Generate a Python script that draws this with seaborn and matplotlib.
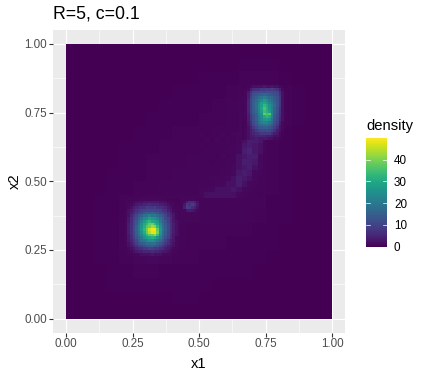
import numpy as np
import matplotlib
matplotlib.use("Agg")
import matplotlib.pyplot as plt
import seaborn as sns

plt.rcParams['font.family'] = ['Liberation Sans', 'DejaVu Sans']

title = "R=5, c=0.1"
xlabel = "x1"
ylabel = "x2"
legend_title = "density"
tick_values = [0, 25, 50, 75, 100]
tick_labels = ["0.00", "0.25", "0.50", "0.75", "1.00"]
cbar_ticks = [0, 10, 20, 30, 40]

# background level, blocks of 5 cells, rows listed from low x2 to high x2
haze = [
    [.1,.1,.1,.1,.1,.1,.1,.1,.1,.1,.1,.1,.1,.1,.1,.1,.1,.1,.1,.1],
    [.1,.1,.1,.1,.1,.1,.1,.1,.2,.2,.1,.1,.1,.1,.1,.1,.1,.1,.1,.1],
    [.1,.1,.1,.2,.2,.2,.2,.2,.2,.2,.2,.1,.1,.1,.1,.1,.1,.1,.1,.1],
    [.1,.1,.1,.2,.3,.4,.4,.3,.3,.2,.2,.2,.2,.2,.1,.1,.1,.1,.1,.1],
    [.1,.1,.2,.3,.4,.8,1.,.8,.5,.4,.3,.3,.3,.2,.2,.1,.1,.1,.1,.1],
    [.1,.1,.2,.3,.6,1.,1.,1.,.6,.4,.4,.4,.3,.3,.2,.2,.1,.1,.1,.1],
    [.1,.1,.2,.3,.6,1.,1.,1.,.7,.5,.5,.5,.5,.4,.3,.2,.1,.1,.1,.1],
    [.1,.1,.2,.3,.5,.9,1.,1.,.8,.8,.7,.7,.7,.7,.4,.3,.2,.1,.1,.1],
    [.1,.1,.2,.2,.4,.6,.8,.8,.8,.8,.7,.7,.7,.7,.6,.3,.2,.1,.1,.1],
    [.1,.1,.1,.2,.3,.4,.5,.6,.7,.7,.7,.7,.7,.8,.7,.4,.2,.1,.1,.1],
    [.1,.1,.1,.2,.2,.3,.4,.5,.6,.7,.7,.7,.7,.8,.7,.4,.2,.1,.1,.1],
    [.1,.1,.1,.1,.2,.3,.4,.5,.5,.6,.7,.7,.7,.8,.7,.4,.2,.1,.1,.1],
    [.1,.1,.1,.1,.2,.2,.3,.4,.5,.5,.6,.6,.7,.8,.8,.5,.2,.1,.1,.1],
    [.1,.1,.1,.1,.1,.2,.2,.3,.4,.4,.5,.6,.7,1.,1.,.6,.3,.1,.1,.1],
    [.1,.1,.1,.1,.1,.1,.2,.2,.3,.3,.4,.5,.7,1.,1.,1.,.4,.2,.1,.1],
    [.1,.1,.1,.1,.1,.1,.1,.2,.2,.2,.3,.4,.6,.9,1.,1.,.5,.2,.1,.1],
    [.1,.1,.1,.1,.1,.1,.1,.1,.2,.2,.2,.3,.4,.7,.9,.9,.4,.2,.1,.1],
    [.1,.1,.1,.1,.1,.1,.1,.1,.1,.1,.2,.2,.2,.4,.5,.5,.3,.1,.1,.1],
    [.1,.1,.1,.1,.1,.1,.1,.1,.1,.1,.1,.1,.1,.2,.2,.2,.1,.1,.1,.1],
    [.1,.1,.1,.1,.1,.1,.1,.1,.1,.1,.1,.1,.1,.1,.1,.1,.1,.1,.1,.1],
]

# lower-left blob, single cells, x index from 22, rows from x2 index 43 downward
blob_a = [
    [.5,.7,.6,.8,.7,1,1,1,1,1,1,1,1,1,1,.8,.7,.6,.5,.5,.5],
    [.6,.8,1,1,2,2,2,3,3,3,3,3,3,2,2,2,1,1,.8,.6,.5],
    [.7,1,1,2,3,4,4,5,5,6,5,5,5,4,4,3,2,1,1,.7,.6],
    [.7,1,2,4,5,6,7,7,9,8,8,9,7,7,6,5,3,2,1,.8,.6],
    [.8,2,3,5,7,8,9,10,10,11,11,10,10,9,7,7,4,3,1,1,.7],
    [1,2,4,6,8,9,11,13,15,14,16,14,13,11,10,8,6,4,2,1,.7],
    [1,2,5,8,10,13,15,18,19,21,19,20,17,15,13,10,7,5,3,1,.8],
    [1,3,6,9,12,15,19,23,24,28,26,25,22,18,15,11,9,6,3,1,.8],
    [1,3,6,10,13,17,22,27,31,33,30,29,26,20,16,13,9,6,3,2,1],
    [1,4,7,10,14,18,25,30,33,38,39,33,29,23,17,14,10,7,4,2,1],
    [1,4,7,11,15,20,26,31,37,39,43,41,33,25,18,14,11,7,4,2,1],
    [1,4,7,12,15,20,27,33,39,46,49,49,38,27,19,15,11,7,4,2,1],
    [1,4,7,10,15,19,25,31,38,44,48,48,40,26,18,14,10,7,4,2,1],
    [1,3,6,11,14,18,23,28,33,37,38,42,34,24,17,14,10,6,3,2,1],
    [1,3,6,9,13,16,20,25,28,30,32,30,26,21,16,12,9,6,3,1,.8],
    [1,3,5,8,11,14,18,20,22,25,25,23,20,17,14,10,7,4,3,1,.8],
    [1,2,4,7,9,12,14,15,18,17,18,18,15,13,11,8,6,4,2,1,.7],
    [.8,2,3,5,7,9,10,12,13,14,15,13,12,10,8,6,4,3,2,1,.7],
    [.7,1,2,3,5,6,7,8,8,10,9,8,8,7,6,4,3,2,1,.8,.6],
    [.6,.8,1,2,3,4,4,5,5,5,6,5,5,4,3,3,2,1,.8,.6,.5],
    [.5,.6,.7,1,1,1,2,2,2,2,3,2,2,2,1,1,1,.8,.6,.5,.5],
]

# upper-right blob, single cells, x index from 66, rows from x2 index 84 downward
blob_b = [
    [.3,.4,.6,1,2,2,2,2,3,2,2,3,2,2,1,.6,.3],
    [.4,.6,1,4,6,7,7,8,8,9,8,9,8,7,4,1,.4],
    [.5,.8,3,7,10,11,11,12,11,12,12,11,11,10,6,2,.5],
    [.5,.8,4,8,12,13,14,15,16,15,14,13,12,11,7,2,.6],
    [.6,1,4,9,13,15,17,19,21,19,17,16,14,12,8,2,.6],
    [.6,1,5,10,14,17,20,23,27,24,20,18,15,12,8,2,.6],
    [.6,1,5,10,15,18,21,28,29,27,23,20,16,13,8,2,.6],
    [.6,1,5,10,15,18,23,28,33,30,25,21,17,13,8,2,.6],
    [.6,1,5,10,14,18,23,29,36,31,26,21,16,12,7,2,.6],
    [.6,1,5,10,14,17,22,28,34,32,28,21,16,12,7,2,.6],
    [.6,1,4,9,13,16,21,25,38,35,37,23,15,11,6,2,.6],
    [.6,1,4,8,12,15,20,24,30,33,30,22,14,11,6,2,.6],
    [.6,.8,4,8,12,15,19,23,27,28,25,19,13,10,5,2,.5],
    [.5,.8,3,7,11,14,18,21,23,23,20,17,12,9,4,1,.5],
    [.5,.8,3,6,10,13,15,18,19,19,17,14,11,8,3,1,.4],
    [.5,.8,2,5,8,11,13,14,15,15,14,12,9,6,2,1,.4],
    [.5,.8,2,4,6,8,10,11,11,12,11,9,7,4,2,.7,.3],
    [.5,1,2,4,5,6,7,8,8,8,8,6,4,3,1,.5,.3],
    [.5,1,2,3,4,5,5,5,5,4,4,3,2,2,1,.4,.3],
    [.5,1,2,3,3,4,3,3,3,3,2,2,1,1,.6,.3,.3],
]

# small spot, x index from 44, rows from x2 index 42 downward
spot_c = [
    [1,4,6,6,5,2],
    [3,8,7,9,7,3],
    [4,9,8,6,5,2],
    [1,3,4,3,2,1],
]

# connecting tail, blocks of 2 cells, x index from 50, rows from x2 index 64 downward
tail = [
    [.6,.5,.7,.6,.8,.7,.9,1.,2,3,4,3],
    [.5,.7,.5,.8,.6,.8,.7,1.,2,4,4,3],
    [.7,.5,.6,.6,.7,.7,.8,1.,3,4,3,2],
    [.5,.6,.6,.7,.6,.8,.8,1.,4,5,3,2],
    [.6,.6,.7,.5,.8,.7,.9,2,3,4,4,1.],
    [.6,.7,.5,.7,.7,.8,.9,2,4,4,3,1.],
    [.7,.6,.7,.7,.6,.8,1.,2,3,4,2,1.],
    [.6,.7,.7,.7,.8,.9,1.,3,4,3,1.,.8],
    [.7,.7,.8,.8,.9,1.,2,4,3,2,1.,.7],
    [.8,.8,.9,1.,1.,2,2,4,2,1.,.8,.6],
    [1.,1.,1.,2,2,2,3,2,1.,.8,.7,.6],
    [1.,2,2,2,2,2,2,1.,.8,.7,.6,.5],
]

density = np.kron(np.array(haze, dtype=float), np.ones((5, 5)))
tail_cells = np.kron(np.array(tail, dtype=float), np.ones((2, 2)))
density[44:68, 50:74] = tail_cells[::-1]
density[23:44, 22:43] = np.array(blob_a, dtype=float)[::-1]
density[65:85, 66:83] = np.array(blob_b, dtype=float)[::-1]
density[39:43, 44:50] = np.array(spot_c, dtype=float)[::-1]

W, H = 423, 375
fig = plt.figure(figsize=(W / 100, H / 100), dpi=100, facecolor="white")
ax = fig.add_axes([52.7 / W, 1 - 332.5 / H, (345.3 - 52.7) / W, (332.5 - 30) / H])
cax = fig.add_axes([366 / W, 1 - 246.7 / H, 21 / W, 108.7 / H])

sns.heatmap(density, ax=ax, cmap="viridis", vmin=0, vmax=50, cbar_ax=cax,
            xticklabels=False, yticklabels=False, square=False)

ax.set_facecolor("#EBEBEB")
ax.set_xlim(-5, 105)
ax.set_ylim(-5, 105)
ax.set_position([52.7 / W, 1 - 332.5 / H, (345.3 - 52.7) / W, (332.5 - 30) / H])
for s in ax.spines.values():
    s.set_visible(False)
ax.set_axisbelow(True)
ax.set_xticks(tick_values)
ax.set_xticklabels(tick_labels)
ax.set_yticks(tick_values)
ax.set_yticklabels(tick_labels, rotation=0)
minor = [12.5, 37.5, 62.5, 87.5]
ax.set_xticks(minor, minor=True)
ax.set_yticks(minor, minor=True)
ax.grid(True, which="major", color="white", lw=0.8)
ax.grid(True, which="minor", color="white", lw=0.4)
ax.tick_params(which="major", length=2.6, width=0.8, color="#333333",
               labelcolor="#4D4D4D", labelsize=8.4, pad=1.5)
ax.tick_params(which="minor", length=0)
ax.set_xlabel(xlabel, fontsize=10.6, color="black", labelpad=5)
ax.set_ylabel(ylabel, fontsize=10.6, color="black", labelpad=2)
ax.set_title(title, loc="left", fontsize=12.7, color="black", pad=8)

cbar = ax.collections[0].colorbar
cbar.outline.set_visible(False)
cbar.set_ticks(cbar_ticks)
cax.tick_params(length=0, labelsize=8.4, labelcolor="black", pad=5)
tr = cax.get_yaxis_transform()
for v in cbar_ticks[1:]:
    cax.plot([0, 0.2], [v, v], color="white", lw=0.5, transform=tr)
    cax.plot([0.8, 1], [v, v], color="white", lw=0.5, transform=tr)
fig.text(366 / W, 1 - 126 / H, legend_title, fontsize=10.6, va="center", ha="left")

fig.savefig("out.png", dpi=100)
